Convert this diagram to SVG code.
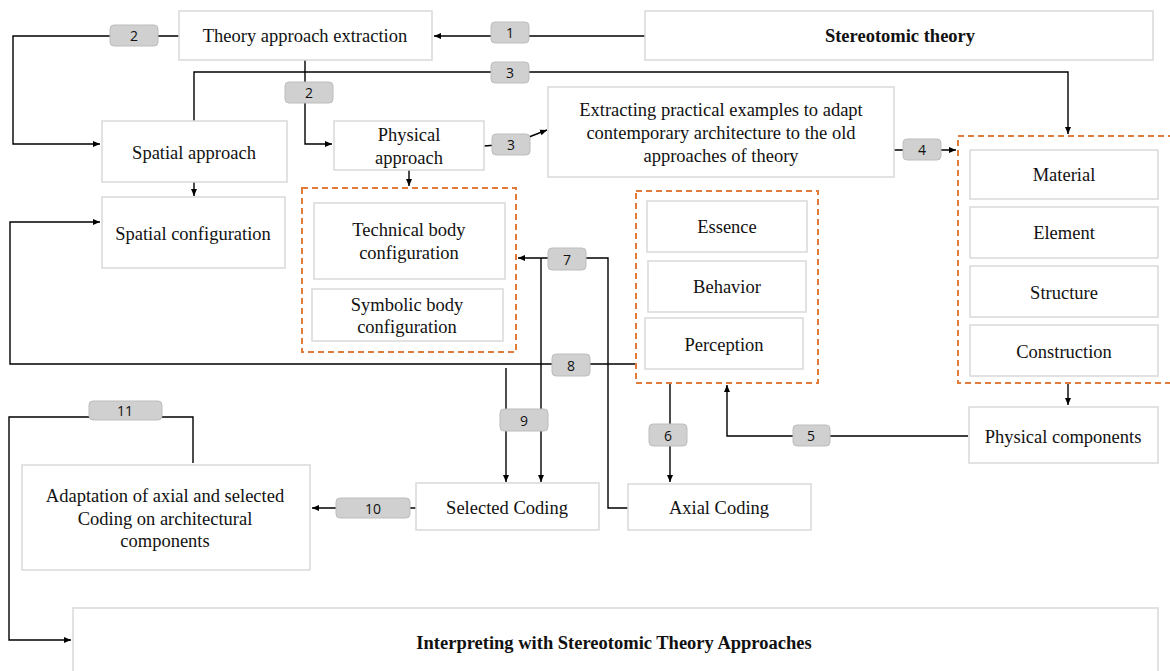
<svg xmlns="http://www.w3.org/2000/svg" width="1170" height="671" viewBox="0 0 1170 671">
<defs>
<marker id="ah" markerWidth="8" markerHeight="8" refX="7" refY="4" orient="auto" markerUnits="userSpaceOnUse">
<path d="M0,1 L7,4 L0,7 Z" fill="#000"/>
</marker>
<style>
.box{fill:#fff;stroke:#d9d9d9;stroke-width:1.5}
.grp{fill:none;stroke:#e07b39;stroke-width:2;stroke-dasharray:6,4}
.t{font-family:"Liberation Serif","Times New Roman",serif;font-size:18.5px;fill:#111;text-anchor:middle;dominant-baseline:central}
.b{font-weight:bold}
.ln{fill:none;stroke:#000;stroke-width:1.4}
.bd{fill:#d0d0d0;stroke:#bdbdbd;stroke-width:1}
.bt{font-family:"Open Sans","Liberation Sans",sans-serif;font-size:14px;fill:#111;text-anchor:middle;dominant-baseline:central}
</style>
</defs>
<rect width="1170" height="671" fill="#fff"/>

<g id="connectors">
<path class="ln" d="M645,36 H434" marker-end="url(#ah)"/>
<path class="ln" d="M179,36 H13 V144 H100" marker-end="url(#ah)"/>
<path class="ln" d="M305,60 V144 H332" marker-end="url(#ah)"/>
<path class="ln" d="M194,121 V72 H1068 V134" marker-end="url(#ah)"/>
<path class="ln" d="M194,182 V196" marker-end="url(#ah)"/>
<path class="ln" d="M409,170 V186" marker-end="url(#ah)"/>
<path class="ln" d="M484,146 L511,144 L547,130" marker-end="url(#ah)"/>
<path class="ln" d="M894,150 H956" marker-end="url(#ah)"/>
<path class="ln" d="M1068,383 V405" marker-end="url(#ah)"/>
<path class="ln" d="M968,436 H727 V385" marker-end="url(#ah)"/>
<path class="ln" d="M670,383 V482" marker-end="url(#ah)"/>
<path class="ln" d="M628,508 H608 V258 H518" marker-end="url(#ah)"/>
<path class="ln" d="M541,258 V482" marker-end="url(#ah)"/>
<path class="ln" d="M636,364 H10 V222 H100" marker-end="url(#ah)"/>
<path class="ln" d="M506,368 V482" marker-end="url(#ah)"/>
<path class="ln" d="M416,508 H312" marker-end="url(#ah)"/>
<path class="ln" d="M193,463 V417 H9 V640 H71" marker-end="url(#ah)"/>

<rect class="bd" x="491" y="22" width="38" height="21" rx="4"/><text class="bt" x="510" y="32.5">1</text>
<rect class="bd" x="110" y="25" width="48" height="21" rx="4"/><text class="bt" x="134" y="35.5">2</text>
<rect class="bd" x="285" y="82" width="48" height="21" rx="4"/><text class="bt" x="309" y="92.5">2</text>
<rect class="bd" x="491" y="62" width="38" height="21" rx="4"/><text class="bt" x="510" y="72.5">3</text>
<rect class="bd" x="492" y="134" width="38" height="21" rx="4"/><text class="bt" x="511" y="144.5">3</text>
<rect class="bd" x="903" y="139" width="38" height="21" rx="4"/><text class="bt" x="922" y="149.5">4</text>
<rect class="bd" x="793" y="425" width="37" height="21" rx="4"/><text class="bt" x="811" y="435.5">5</text>
<rect class="bd" x="649" y="424" width="38" height="22" rx="4"/><text class="bt" x="668" y="435">6</text>
<rect class="bd" x="548" y="248" width="38" height="22" rx="4"/><text class="bt" x="567" y="259">7</text>
<rect class="bd" x="552" y="354" width="38" height="22" rx="4"/><text class="bt" x="571" y="365">8</text>
<rect class="bd" x="500" y="409" width="48" height="22" rx="4"/><text class="bt" x="524" y="420">9</text>
<rect class="bd" x="336" y="498" width="74" height="20" rx="4"/><text class="bt" x="373" y="508">10</text>
<rect class="bd" x="89" y="401" width="73" height="19" rx="4"/><text class="bt" x="125" y="410.5">11</text>
</g>

<g id="n-theory"><rect class="box" x="179" y="11" width="253" height="49"/><text class="t" x="305" y="36">Theory approach extraction</text></g>
<g id="n-stereo"><rect class="box" x="645" y="11" width="508" height="49"/><text class="t b" x="900" y="36">Stereotomic theory</text></g>
<g id="n-spatial"><rect class="box" x="102" y="121" width="185" height="61"/><text class="t" x="194" y="153">Spatial approach</text></g>
<g id="n-physical"><rect class="box" x="334" y="121" width="150" height="49"/><text class="t" x="409" y="135">Physical</text><text class="t" x="409" y="158">approach</text></g>
<g id="n-extract"><rect class="box" x="548" y="87" width="346" height="90"/><text class="t" x="721" y="110">Extracting practical examples to adapt</text><text class="t" x="721" y="133">contemporary architecture to the old</text><text class="t" x="721" y="156">approaches of theory</text></g>
<g id="n-spconf"><rect class="box" x="102" y="197" width="183" height="71"/><text class="t" x="193" y="234">Spatial configuration</text></g>

<g id="g-body">
<rect class="grp" x="302" y="188" width="214" height="164"/>
<rect class="box" x="314" y="203" width="191" height="76"/><text class="t" x="409" y="230">Technical body</text><text class="t" x="409" y="253">configuration</text>
<rect class="box" x="312" y="289" width="191" height="52"/><text class="t" x="407" y="305">Symbolic body</text><text class="t" x="407" y="327">configuration</text>
</g>

<g id="g-ebp">
<rect class="grp" x="636" y="191" width="182" height="192"/>
<rect class="box" x="647" y="201" width="160" height="51"/><text class="t" x="727" y="227">Essence</text>
<rect class="box" x="648" y="261" width="158" height="51"/><text class="t" x="727" y="287">Behavior</text>
<rect class="box" x="645" y="318" width="158" height="51"/><text class="t" x="724" y="345">Perception</text>
</g>

<g id="g-mat">
<rect class="grp" x="958" y="136" width="218" height="247"/>
<rect class="box" x="970" y="150" width="188" height="49"/><text class="t" x="1064" y="175">Material</text>
<rect class="box" x="970" y="207" width="188" height="51"/><text class="t" x="1064" y="233">Element</text>
<rect class="box" x="970" y="266" width="188" height="51"/><text class="t" x="1064" y="293">Structure</text>
<rect class="box" x="970" y="325" width="188" height="51"/><text class="t" x="1064" y="352">Construction</text>
</g>

<g id="n-physcomp"><rect class="box" x="969" y="407" width="189" height="56"/><text class="t" x="1063" y="437">Physical components</text></g>
<g id="n-selected"><rect class="box" x="416" y="483" width="183" height="47"/><text class="t" x="507" y="508">Selected Coding</text></g>
<g id="n-axial"><rect class="box" x="628" y="484" width="183" height="46"/><text class="t" x="719" y="508">Axial Coding</text></g>
<g id="n-adapt"><rect class="box" x="22" y="465" width="288" height="105"/><text class="t" x="165" y="496">Adaptation of axial and selected</text><text class="t" x="165" y="519">Coding on architectural</text><text class="t" x="165" y="541">components</text></g>
<g id="n-interp"><rect class="box" x="73" y="608" width="1085" height="70"/><text class="t b" x="614" y="643">Interpreting with Stereotomic Theory Approaches</text></g>
</svg>
